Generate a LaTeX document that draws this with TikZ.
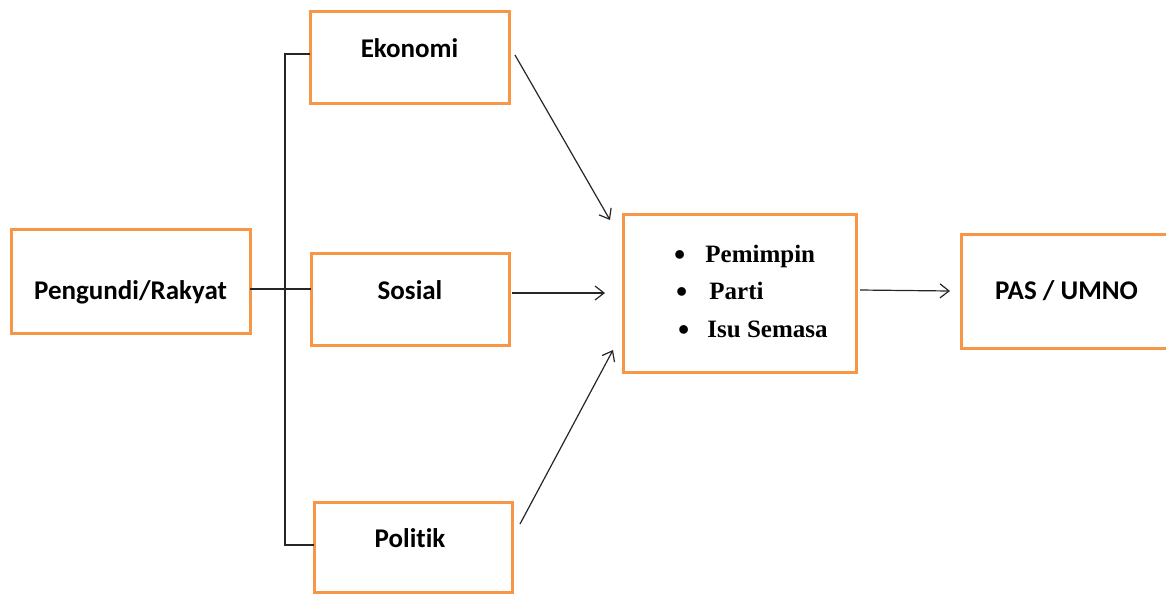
\documentclass[tikz,border=0pt]{standalone}
\usepackage{fontspec}
\setmainfont{Liberation Serif}
\newfontfamily\carlitofont[Ligatures={NoCommon}]{Carlito}
\usetikzlibrary{arrows.meta}
\definecolor{boxorange}{HTML}{F79646}
\newcommand{\bigbul}{\raisebox{-3pt}{\fontsize{32}{32}\selectfont\textbullet}}
\tikzset{
  box/.style={draw=boxorange, line width=3pt, rectangle, inner sep=0pt, outer sep=0pt, fill=white},
  lbl/.style={font=\carlitofont\bfseries\fontsize{27}{32}\selectfont, inner sep=0pt},
  conn/.style={draw=black!85, line width=1.2pt},
  arr/.style={conn, -{Straight Barb[length=9pt,width=14pt,line width=1.2pt]}}
}
\begin{document}
\begin{tikzpicture}[x=1pt,y=-1pt]
\useasboundingbox (0,0) rectangle (1166,595);
\clip (0,0) rectangle (1166,595);
% boxes
\node[box, minimum width=239pt, minimum height=104pt] (peng) at (130.5,281) {};
\node[box, minimum width=199pt, minimum height=92pt] (eko) at (409.5,57) {};
\node[box, minimum width=198pt, minimum height=92pt] (sos) at (410,299) {};
\node[box, minimum width=198pt, minimum height=90pt] (pol) at (413,547) {};
\node[box, minimum width=233pt, minimum height=158pt] (mid) at (739.5,293) {};
\node[box, minimum width=207pt, minimum height=114pt] (pas) at (1064.5,291) {};
% labels
\node[lbl] (pengt) at ([yshift=-11pt]peng.center) {Pengundi/Rakyat};
\node[lbl] (ekot) at ([yshift=9pt]eko.center) {Ekonomi};
\node[lbl] (sost) at ([yshift=9pt]sos.center) {Sosial};
\node[lbl] (polt) at ([xshift=-3pt,yshift=9pt]pol.center) {Politik};
\node[lbl] (past) at ([xshift=2pt]pas.center) {PAS / UMNO};
\node[anchor=west, align=left, inner sep=0pt, font=\bfseries\fontsize{25}{37.5}\selectfont] (midt) at (674,292.5)
  {\bigbul\hspace{20pt}Pemimpin\\\hspace{2pt}\bigbul\hspace{22pt}Parti\\\hspace{4pt}\bigbul\hspace{18pt}Isu Semasa};
% connectors
\coordinate (jp) at (250,289);
\coordinate (js) at (311,289);
\draw[conn] (jp) -- (js);
\draw[conn] ([yshift=3pt]eko.west) -- ++(-25,0) coordinate (trunktop) |- ([yshift=2pt]pol.west);
\draw[arr] ([xshift=6pt,yshift=2pt]eko.east) -- ([xshift=-13pt,yshift=-6pt]mid.north west);
\draw[arr] ([xshift=3pt,yshift=6pt]sos.east) -- ([xshift=-18pt]mid.west);
\draw[arr] ([xshift=8pt,yshift=23pt]pol.east) -- ([xshift=-10pt,yshift=22pt]mid.south west);
\draw[arr] ([xshift=4pt,yshift=3pt]mid.east) -- ([xshift=-11pt]pas.west);
\end{tikzpicture}
\end{document}
